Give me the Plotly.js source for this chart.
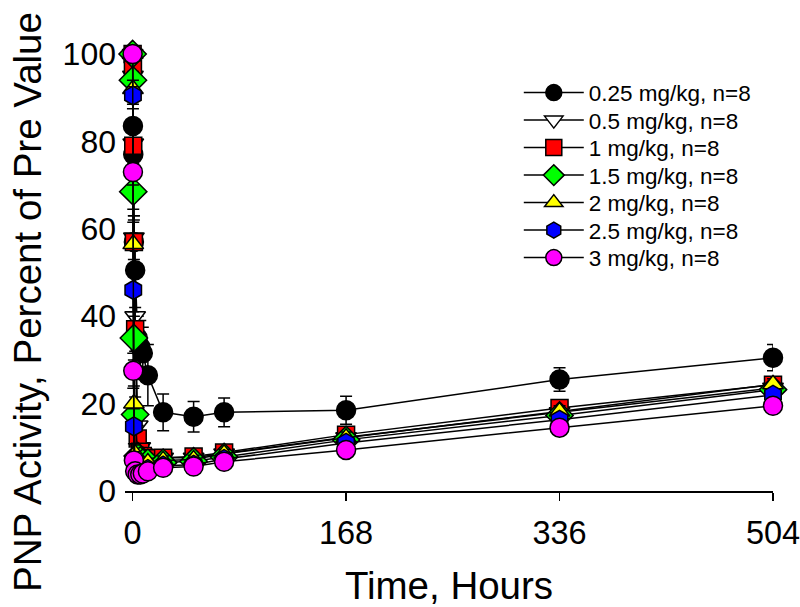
<!DOCTYPE html>
<html>
<head>
<meta charset="utf-8">
<script src="https://cdn.plot.ly/plotly-3.0.1.min.js"></script>
<style>html,body{margin:0;padding:0;background:#fff;}#chart{width:800px;height:607px;}</style>
</head>
<body>
<div id="chart"></div>
<script>
// Time in hours
const times = [0, 0.25, 0.5, 1, 2, 4, 6, 8, 12, 24, 48, 72, 168, 336, 504];

const seriesNames = ["0.25 mg/kg, n=8", "0.5 mg/kg, n=8", "1 mg/kg, n=8", "1.5 mg/kg, n=8", "2 mg/kg, n=8", "2.5 mg/kg, n=8", "3 mg/kg, n=8"];

const dose025 = [100, 83.5, 77, 57, 50.5, 35, 33, 31.5, 26.5, 18, 17, 18, 18.5, 25.5, 30.5];
const dose05  = [100, 95, 79.5, 58, 40, 15, 10, 8.5, 8, 7.6, 7.6, 8.6, 12.3, 18, 23.6];
const dose1   = [100, 96.5, 79, 57, 37, 12, 9, 8, 7.5, 7.6, 7.9, 8.8, 12.9, 19, 24.3];
const dose15  = [100, 94, 68.5, 35, 17.5, 8, 7, 6.5, 6.5, 6.5, 6.8, 7.8, 11.7, 17.3, 23.2];
const dose2   = [100, 92, 56.5, 20, 8.5, 6.5, 6, 6, 6.5, 7, 7.2, 8.5, 12.2, 18.2, 24.4];
const dose25  = [100, 90.5, 46, 14.8, 6, 5, 4.5, 4.5, 5, 5.8, 6, 7.3, 11, 16.3, 22];
const dose3   = [100, 73, 27.5, 7, 4.5, 3.8, 3.8, 4, 4.5, 5.3, 5.6, 6.7, 9.4, 14.5, 19.5];

const err025 = [0, 4, 5, 6, 5, 5, 6, 6, 7, 4.2, 3.5, 3.3, 3.2, 2.7, 3];
const err05  = [0, 2, 4, 5, 5, 4, 2, 1.5, 1.5, 1.2, 1.2, 1.2, 1.5, 1.5, 1.5];
const err1   = [0, 2, 4, 5, 5, 3, 2, 1.5, 1.5, 1.2, 1.2, 1.2, 1.5, 1.5, 1.5];
const err15  = [0, 2, 4, 5, 4, 2, 1.5, 1.2, 1.2, 1, 1, 1, 1.3, 1.3, 1.3];
const err2   = [0, 2, 5, 4, 2, 1.5, 1.2, 1, 1, 1, 1, 1, 1.3, 1.3, 1.3];
const err25  = [0, 2, 5, 4, 2, 1.2, 1, 1, 1, 1, 1, 1, 1.2, 1.2, 1.2];
const err3   = [0, 3, 4, 2, 1, 0.8, 0.8, 0.8, 0.8, 0.8, 0.8, 0.8, 1, 1, 1];

const xTicks = [0, 168, 336, 504];
const yTicks = [0, 20, 40, 60, 80, 100];

const xTitle = "Time, Hours";
const yTitle = "PNP Activity, Percent of Pre Value";

const values = [dose025, dose05, dose1, dose15, dose2, dose25, dose3];
const errors = [err025, err05, err1, err15, err2, err25, err3];
const colors = ["#000000", "#ffffff", "#ff0000", "#00ff00", "#ffff00", "#0000ff", "#ff00ff"];
const symbols = ["circle", "triangle-down", "square", "diamond", "triangle-up", "hexagon", "circle"];
const sizes = [19, 18, 17, 21, 18, 19, 19];

const FONT = "Liberation Sans, Arial, sans-serif";

const traces = values.map((v, i) => ({
  type: "scatter",
  mode: "lines+markers",
  name: seriesNames[i],
  x: times,
  y: v,
  cliponaxis: false,
  line: {color: "#000000", width: 1.5},
  marker: {symbol: symbols[i], size: sizes[i], color: colors[i], line: {color: "#000000", width: 1.5}},
  error_y: {type: "data", array: errors[i], visible: true, color: "#000000", thickness: 1.5, width: 6}
}));

const layout = {
  width: 800,
  height: 607,
  margin: {l: 125, r: 27, t: 54, b: 116},
  paper_bgcolor: "#ffffff",
  plot_bgcolor: "#ffffff",
  font: {family: FONT, color: "#000000"},
  showlegend: true,
  legend: {
    x: 0.6077, y: 0.96, xanchor: "left", yanchor: "top",
    bgcolor: "rgba(0,0,0,0)",
    font: {size: 22.5, family: FONT},
    itemwidth: 60,
    tracegroupgap: 0
  },
  xaxis: {
    range: [-6, 504],
    tickvals: xTicks,
    ticktext: xTicks.map(String),
    showline: true, linecolor: "#000000", linewidth: 1.5,
    ticks: "outside", ticklen: 8, tickwidth: 1.5, tickcolor: "#000000",
    showgrid: false, zeroline: false,
    tickfont: {size: 32.5, family: FONT},
    ticklabelstandoff: 4,
    ticklabeloverflow: "allow",
    title: {text: xTitle, font: {size: 38.5, family: FONT}, standoff: 23},
    automargin: false
  },
  yaxis: {
    range: [0, 100],
    tickvals: yTicks,
    ticktext: yTicks.map(String),
    showline: false, ticks: "", showgrid: false, zeroline: false,
    tickfont: {size: 32, family: FONT},
    ticklabelstandoff: 8,
    automargin: false
  },
  annotations: [{
    text: yTitle,
    xref: "paper", yref: "paper",
    x: -0.1497, y: 0.4325,
    xanchor: "center", yanchor: "middle",
    textangle: -90,
    showarrow: false,
    font: {size: 38.5, family: FONT, color: "#000000"}
  }]
};

Plotly.newPlot("chart", traces, layout, {displayModeBar: false, staticPlot: true}).then(gd => {
  // tighten legend row spacing to match the reference
  const items = gd.querySelectorAll(".legend .traces");
  let x0 = null, y0 = null;
  items.forEach((g, i) => {
    const m = /translate\(\s*([-\d.]+)[ ,]+([-\d.]+)\s*\)/.exec(g.getAttribute("transform") || "");
    if (!m) return;
    if (i === 0) { x0 = parseFloat(m[1]); y0 = parseFloat(m[2]); }
    g.setAttribute("transform", "translate(" + x0 + "," + (y0 + i * 27.5) + ")");
  });
});
</script>
</body>
</html>
